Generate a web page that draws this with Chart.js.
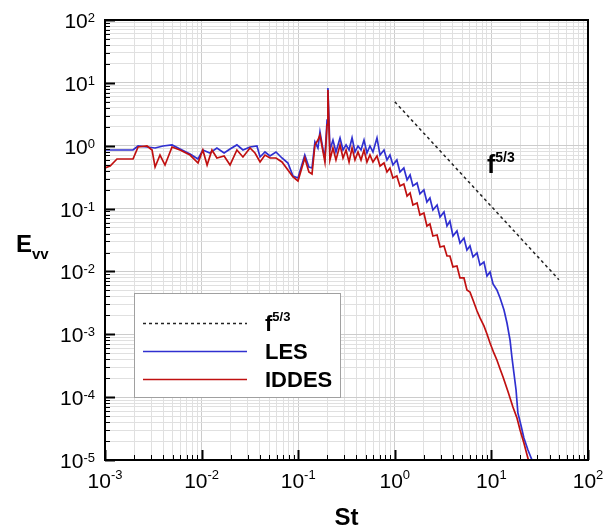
<!DOCTYPE html>
<html>
<head>
<meta charset="utf-8">
<script src="https://cdn.jsdelivr.net/npm/chart.js@4.4.0/dist/chart.umd.min.js"></script>
<style>
    html, body { margin: 0; padding: 0; background: #fff; }
</style>
</head>
<body>
<canvas id="spectrum" width="608" height="531"></canvas>
<script>
// Strouhal number / spectral energy
const lesSt = [0.001, 0.00143, 0.00195, 0.0022, 0.00272, 0.0033, 0.00398, 0.00494, 0.00627, 0.00759,
    0.00918, 0.0103, 0.0122, 0.0144, 0.0171, 0.0197, 0.0232, 0.0268, 0.0317, 0.0374,
    0.0403, 0.0453, 0.051, 0.0589, 0.0679, 0.0783, 0.0883, 0.0995, 0.109, 0.117,
    0.129, 0.139, 0.149, 0.16, 0.168, 0.181, 0.189, 0.199, 0.203, 0.213,
    0.229, 0.246, 0.271, 0.291, 0.313, 0.336, 0.361, 0.387, 0.416, 0.447,
    0.48, 0.515, 0.553, 0.594, 0.654, 0.703, 0.773, 0.83, 0.891, 0.957,
    1.05, 1.13, 1.24, 1.34, 1.44, 1.54, 1.70, 1.82, 2.0, 2.15,
    2.31, 2.48, 2.74, 2.94, 3.23, 3.47, 3.72, 4.0, 4.40, 4.73,
    5.20, 5.58, 6.0, 6.45, 7.10, 7.62, 8.37, 9.0, 9.68, 10.4,
    11.4, 12.3, 13.5, 14.5, 15.6, 16.3, 17.1, 18.0, 18.8, 20.2,
    21.7, 23.9, 26.3, 28.3];
const lesE = [0.855, 0.855, 0.855, 0.99, 0.955, 0.92, 0.99, 1.03, 0.855, 0.738,
    0.615, 0.855, 0.766, 0.92, 0.766, 0.887, 1.03, 0.855, 0.955, 0.99,
    0.662, 0.794, 0.686, 0.794, 0.638, 0.531, 0.33, 0.307, 0.493, 0.711,
    0.458, 0.442, 1.15, 0.92, 1.65, 0.855, 0.638, 2.56, 8.28, 0.855,
    1.23, 0.794, 1.33, 0.855, 1.03, 0.855, 1.33, 0.794, 0.99, 0.855,
    1.23, 0.766, 0.99, 0.794, 1.33, 0.711, 0.855, 0.593, 0.711, 0.493,
    0.593, 0.382, 0.442, 0.285, 0.342, 0.229, 0.255, 0.171, 0.198, 0.127,
    0.147, 0.0948, 0.114, 0.0734, 0.0883, 0.0528, 0.0634, 0.0366, 0.044, 0.0283,
    0.034, 0.0219, 0.0254, 0.017, 0.0197, 0.0126, 0.0141, 0.00845, 0.0098, 0.00631,
    0.00507, 0.00378, 0.00244, 0.00151, 0.00081, 0.000435, 0.000242, 0.00013, 0.000056, 0.0000361,
    0.0000224, 0.0000144, 0.00001, 0.0000069];

const iddesSt = [0.001, 0.00113, 0.00133, 0.00169, 0.00195, 0.0022, 0.00272, 0.00307, 0.0033, 0.00371,
    0.00418, 0.00494, 0.00597, 0.00759, 0.00918, 0.0103, 0.0114, 0.0128, 0.0144, 0.0171,
    0.0197, 0.0232, 0.0268, 0.0317, 0.0357, 0.0403, 0.0453, 0.051, 0.0589, 0.0679,
    0.0783, 0.0883, 0.0995, 0.109, 0.117, 0.129, 0.139, 0.149, 0.16, 0.168,
    0.181, 0.189, 0.199, 0.203, 0.213, 0.229, 0.246, 0.271, 0.291, 0.313,
    0.336, 0.361, 0.387, 0.416, 0.447, 0.48, 0.515, 0.553, 0.594, 0.654,
    0.703, 0.773, 0.83, 0.891, 0.957, 1.05, 1.13, 1.24, 1.34, 1.44,
    1.54, 1.70, 1.82, 2.0, 2.15, 2.31, 2.48, 2.74, 2.94, 3.23,
    3.47, 3.72, 4.0, 4.40, 4.73, 5.20, 5.58, 6.0, 6.45, 7.10,
    7.62, 8.37, 9.0, 9.68, 10.6, 11.4, 12.3, 13.2, 14.9, 16.7,
    18.4, 19.8, 21.7, 23.4, 25.1];
const iddesE = [0.442, 0.475, 0.615, 0.615, 0.615, 0.955, 0.99, 0.855, 0.458, 0.711,
    0.493, 0.955, 0.855, 0.711, 0.531, 0.855, 0.493, 0.855, 0.638, 0.686,
    0.493, 0.855, 0.662, 0.92, 0.766, 0.551, 0.711, 0.638, 0.638, 0.551,
    0.411, 0.318, 0.275, 0.442, 0.638, 0.382, 0.355, 1.03, 1.23, 1.48,
    0.794, 0.551, 2.14, 7.69, 0.593, 0.92, 0.593, 1.03, 0.638, 0.855,
    0.551, 0.92, 0.593, 0.794, 0.593, 0.855, 0.551, 0.711, 0.551, 0.686,
    0.475, 0.531, 0.382, 0.442, 0.307, 0.330, 0.229, 0.246, 0.158, 0.177,
    0.114, 0.123, 0.0791, 0.0851, 0.0528, 0.0569, 0.0366, 0.038, 0.0245, 0.0254,
    0.0176, 0.0176, 0.0118, 0.0122, 0.00787, 0.00787, 0.00507, 0.00471, 0.00352, 0.00235,
    0.00182, 0.00136, 0.00101, 0.000728, 0.000505, 0.00039, 0.000281, 0.000209, 0.000121, 0.0000697,
    0.0000466, 0.00003, 0.0000187, 0.000012, 0.000008];

// -5/3 reference slope
const slopeSt = [1, 50];
const slopeE = [5, 0.0074];

// axis decades (tick labels are 10^n)
const xDecades = [-3, -2, -1, 0, 1, 2];
const yDecades = [-5, -4, -3, -2, -1, 0, 1, 2];

const FONT = '"Liberation Sans", Arial, Helvetica, sans-serif';

function toPoints(xs, ys) {
    return xs.map((x, i) => ({ x: x, y: ys[i] }));
}

// 1..9 x 10^n for every decade, plus the last power
function decadeTicks(decades) {
    const ticks = [];
    for (let i = 0; i < decades.length - 1; i++) {
        for (let m = 1; m <= 9; m++) {
            ticks.push({ value: m * Math.pow(10, decades[i]), major: m === 1 });
        }
    }
    ticks.push({ value: Math.pow(10, decades[decades.length - 1]), major: true });
    return ticks;
}

// text with a raised superscript, e.g. 10^-3 or f^5/3
function drawSup(ctx, base, sup, x, y, baseFont, supFont, rise, align) {
    ctx.font = baseFont;
    const wb = ctx.measureText(base).width;
    ctx.font = supFont;
    const ws = ctx.measureText(sup).width;
    let left = x;
    if (align === 'right') left = x - wb - ws;
    if (align === 'center') left = x - (wb + ws) / 2;
    ctx.textAlign = 'left';
    ctx.textBaseline = 'alphabetic';
    ctx.font = baseFont;
    ctx.fillText(base, left, y);
    ctx.font = supFont;
    ctx.fillText(sup, left + wb, y - rise);
}

const decorPlugin = {
    id: 'decor',
    afterDraw(chart) {
        const ctx = chart.ctx;
        const area = chart.chartArea;
        const xs = chart.scales.x;
        const ys = chart.scales.y;
        ctx.save();
        ctx.fillStyle = '#000';
        ctx.strokeStyle = '#000';

        // inward ticks on left and bottom
        xs.ticks.forEach(t => {
            const px = Math.round(xs.getPixelForValue(t.value)) + 0.5;
            ctx.lineWidth = t.major ? 2 : 1;
            ctx.beginPath();
            ctx.moveTo(px, area.bottom);
            ctx.lineTo(px, area.bottom - (t.major ? 10 : 5));
            ctx.stroke();
        });
        ys.ticks.forEach(t => {
            const py = Math.round(ys.getPixelForValue(t.value)) + 0.5;
            ctx.lineWidth = t.major ? 2 : 1;
            ctx.beginPath();
            ctx.moveTo(area.left, py);
            ctx.lineTo(area.left + (t.major ? 10 : 5), py);
            ctx.stroke();
        });

        // frame
        ctx.lineWidth = 2;
        ctx.strokeRect(area.left, area.top, area.right - area.left, area.bottom - area.top);

        // tick labels
        xDecades.forEach(d => {
            const px = xs.getPixelForValue(Math.pow(10, d));
            drawSup(ctx, '10', String(d), px, area.bottom + 28,
                '21px ' + FONT, '13px ' + FONT, 9, 'center');
        });
        yDecades.forEach(d => {
            const py = ys.getPixelForValue(Math.pow(10, d));
            drawSup(ctx, '10', String(d), area.left - 10, py + 8,
                '21px ' + FONT, '13px ' + FONT, 6, 'right');
        });

        // axis titles
        ctx.font = 'bold 24px ' + FONT;
        ctx.textAlign = 'center';
        ctx.fillText('St', (area.left + area.right) / 2, 525);
        ctx.textAlign = 'left';
        ctx.fillText('E', 16, 252);
        ctx.font = 'bold 15px ' + FONT;
        ctx.fillText('vv', 32, 259);

        // slope annotation
        drawSup(ctx, 'f', '5/3', 487, 173, 'bold 25px ' + FONT, 'bold 14px ' + FONT, 11, 'left');

        // legend box
        const box = { left: 134, top: 293, right: 340, bottom: 397 };
        ctx.fillStyle = '#fff';
        ctx.fillRect(box.left, box.top, box.right - box.left, box.bottom - box.top);
        ctx.strokeStyle = '#a0a0a0';
        ctx.lineWidth = 1;
        ctx.strokeRect(box.left + 0.5, box.top + 0.5, box.right - box.left, box.bottom - box.top);

        const rows = [323, 351, 379];
        chart.data.datasets.forEach((ds, i) => {
            const y = rows[i];
            ctx.strokeStyle = ds.borderColor;
            ctx.lineWidth = ds.borderDash ? 1.5 : 1.3;
            ctx.setLineDash(ds.borderDash || []);
            ctx.beginPath();
            ctx.moveTo(143, y + 0.5);
            ctx.lineTo(247, y + 0.5);
            ctx.stroke();
            ctx.setLineDash([]);
            ctx.fillStyle = '#000';
            const parts = ds.label.split('^');
            drawSup(ctx, parts[0], parts[1] || '', 265, y + 8,
                'bold 22px ' + FONT, 'bold 13px ' + FONT, 10, 'left');
        });

        ctx.restore();
    }
};

const ctx = document.getElementById('spectrum').getContext('2d');

new Chart(ctx, {
    type: 'line',
    data: {
        datasets: [
            {
                label: 'f^5/3',
                data: toPoints(slopeSt, slopeE),
                borderColor: '#222',
                borderWidth: 1.5,
                borderDash: [3, 3],
                pointRadius: 0,
                order: 2
            },
            {
                label: 'LES',
                data: toPoints(lesSt, lesE),
                borderColor: '#3030d0',
                borderWidth: 1.7,
                pointRadius: 0,
                order: 1
            },
            {
                label: 'IDDES',
                data: toPoints(iddesSt, iddesE),
                borderColor: '#c01010',
                borderWidth: 1.7,
                pointRadius: 0,
                order: 0
            }
        ]
    },
    options: {
        responsive: false,
        animation: false,
        devicePixelRatio: 1,
        layout: { padding: { left: 105, top: 20, right: 20, bottom: 71 } },
        plugins: {
            legend: { display: false },
            tooltip: { enabled: false }
        },
        scales: {
            x: {
                type: 'logarithmic',
                min: 0.001,
                max: 100,
                afterBuildTicks: scale => { scale.ticks = decadeTicks(xDecades); },
                ticks: { display: false },
                border: { display: false },
                grid: {
                    drawTicks: false,
                    color: c => (c.tick && c.tick.major) ? '#cccccc' : '#e0e0e0'
                }
            },
            y: {
                type: 'logarithmic',
                min: 0.00001,
                max: 100,
                afterBuildTicks: scale => { scale.ticks = decadeTicks(yDecades); },
                ticks: { display: false },
                border: { display: false },
                grid: {
                    drawTicks: false,
                    color: c => (c.tick && c.tick.major) ? '#cccccc' : '#e0e0e0'
                }
            }
        }
    },
    plugins: [decorPlugin]
});
</script>
</body>
</html>
